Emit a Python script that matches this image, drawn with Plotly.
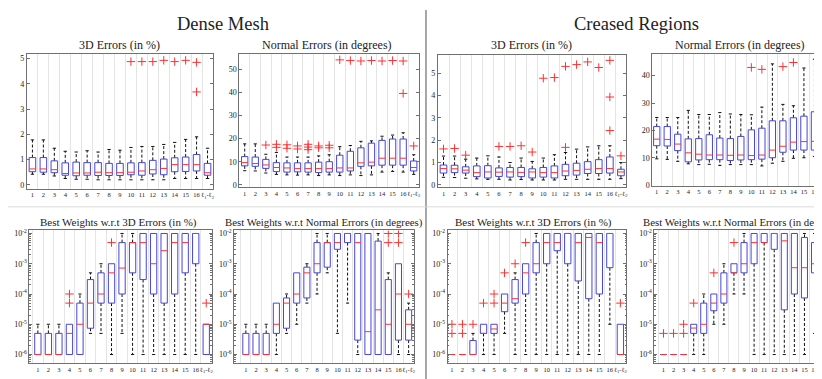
import plotly.graph_objects as go

# ---------------- categories / tick labels ----------------
cats = list(range(1, 18))
xlabels = [str(i) for i in range(1, 17)] + ["ℓ<sub>1</sub>-ℓ<sub>2</sub>"]

# ---------------- Dense Mesh : 3D Errors (in %) ----------------
d3_lw = [0.42, 0.42, 0.35, 0.25, 0.22, 0.22, 0.20, 0.20, 0.20, 0.20, 0.20, 0.20, 0.20, 0.25, 0.25, 0.25, 0.25]
d3_q1 = [0.52, 0.50, 0.48, 0.38, 0.36, 0.38, 0.37, 0.37, 0.37, 0.40, 0.38, 0.43, 0.40, 0.52, 0.53, 0.55, 0.38]
d3_med = [0.63, 0.63, 0.60, 0.45, 0.47, 0.47, 0.50, 0.48, 0.48, 0.50, 0.55, 0.60, 0.65, 0.80, 0.80, 0.80, 0.48]
d3_q3 = [1.08, 1.08, 0.95, 0.87, 0.90, 0.88, 0.88, 0.85, 0.85, 0.87, 0.88, 0.97, 1.02, 1.07, 1.10, 1.20, 0.85]
d3_uw = [1.78, 1.78, 1.45, 1.33, 1.30, 1.35, 1.30, 1.40, 1.37, 1.48, 1.52, 1.52, 1.60, 1.68, 1.80, 1.90, 1.45]
d3_out = [[], [], [], [], [], [], [], [], [], [4.88], [4.88], [4.88], [4.93], [4.88], [4.93], [4.85, 3.68], []]

# ---------------- Dense Mesh : Normal Errors (in degrees) ----------------
dn_lw = [6.1, 6.0, 5.1, 4.5, 4.3, 4.2, 4.3, 4.0, 4.3, 4.0, 4.3, 4.0, 4.3, 5.5, 5.8, 5.5, 4.5]
dn_q1 = [8.2, 8.0, 7.1, 5.7, 5.5, 5.6, 5.5, 5.3, 5.5, 5.5, 6.0, 8.0, 8.2, 8.5, 8.5, 8.5, 6.0]
dn_med = [9.6, 9.2, 8.6, 7.5, 7.3, 7.0, 7.0, 7.0, 7.0, 7.3, 7.3, 9.5, 9.8, 11.5, 11.5, 11.5, 7.5]
dn_q3 = [12.2, 12.0, 11.0, 9.6, 9.5, 9.5, 9.5, 9.8, 10.0, 12.8, 14.5, 16.0, 18.0, 19.2, 19.8, 19.8, 10.3]
dn_uw = [17.7, 17.7, 13.2, 14.0, 12.0, 12.0, 12.0, 12.5, 13.0, 16.5, 17.0, 18.8, 19.0, 21.0, 21.5, 22.5, 13.0]
dn_out = [[], [], [17.2], [17.5, 16.2], [17.3, 15.8], [16.8, 15.5], [17.5, 16.3, 15.2], [16.8, 16.0],
          [17.1, 16.0], [54.0], [53.7], [53.5], [53.7], [53.5], [53.7], [53.5, 39.5], [16.8]]

# ---------------- Creased Regions : 3D Errors (in %) ----------------
c3_lw = [0.34, 0.33, 0.30, 0.27, 0.25, 0.25, 0.22, 0.24, 0.22, 0.22, 0.22, 0.25, 0.25, 0.25, 0.25, 0.25, 0.28]
c3_q1 = [0.53, 0.55, 0.53, 0.37, 0.31, 0.38, 0.35, 0.37, 0.31, 0.35, 0.31, 0.41, 0.44, 0.51, 0.51, 0.53, 0.41]
c3_med = [0.73, 0.72, 0.66, 0.55, 0.58, 0.57, 0.58, 0.56, 0.58, 0.55, 0.55, 0.62, 0.65, 0.70, 0.73, 0.73, 0.58]
c3_q3 = [0.89, 0.88, 0.81, 0.85, 0.86, 0.76, 0.78, 0.78, 0.72, 0.78, 0.85, 0.92, 0.97, 1.04, 1.13, 1.25, 0.70]
c3_uw = [1.29, 1.29, 1.15, 1.20, 1.30, 1.25, 1.00, 1.20, 1.05, 1.20, 1.35, 1.45, 1.60, 1.70, 1.75, 1.75, 1.00]
c3_out = [[1.61], [1.63], [1.33], [], [], [1.72], [1.72], [1.75], [1.47], [4.77], [4.80], [5.30, 1.68],
          [5.38], [5.50], [5.25], [5.57, 3.93, 2.43], [1.30]]

# ---------------- Creased Regions : Normal Errors (in degrees) ----------------
cn_lw = [9.6, 9.4, 8.7, 7.8, 7.5, 7.6, 7.2, 7.5, 7.5, 7.5, 7.0, 8.0, 8.7, 9.8, 10.0, 10.5, 7.8]
cn_q1 = [14.4, 14.3, 12.6, 8.5, 9.2, 9.3, 9.3, 9.0, 9.2, 9.3, 9.5, 10.0, 12.0, 12.8, 12.8, 12.8, 9.3]
cn_med = [16.8, 16.7, 15.0, 11.8, 11.3, 11.0, 11.0, 10.9, 11.0, 10.8, 11.0, 12.8, 14.2, 15.7, 15.9, 16.0, 11.8]
cn_q3 = [21.4, 21.4, 18.6, 16.9, 17.0, 18.4, 17.2, 17.0, 17.8, 20.2, 20.8, 23.5, 23.5, 24.6, 25.2, 26.8, 17.4]
cn_uw = [24.7, 24.7, 24.7, 27.3, 25.8, 25.8, 26.5, 26.0, 25.8, 25.7, 28.5, 44.3, 29.5, 29.0, 42.8, 46.0, 24.7]
cn_out = [[], [], [], [], [], [], [], [], [], [43.0], [42.3], [], [43.3], [44.8], [], [], []]

# ---------------- Dense Mesh : Best Weights w.r.t 3D Errors ----------------
dw3_lw = [1e-6, 1e-6, 1e-6, 1e-6, 1e-6, 5e-6, 5e-6, 1e-6, 5e-6, 1e-6, 1e-6, 1e-6, 1e-6, 1e-6, 1e-6, 1e-6, 1e-6]
dw3_q1 = [1e-6, 1e-6, 1e-6, 1e-6, 1e-6, 7.4e-6, 5e-5, 5e-5, 1e-4, 5e-4, 3e-4, 1e-4, 5e-5, 1e-4, 5e-4, 1e-3, 1e-6]
dw3_med = [1e-6, 1e-6, 1e-6, 5e-6, 1e-5, 5e-5, 1e-4, 5e-4, 7.2e-4, 5e-3, 5e-3, 1e-3, 2.7e-3, 5e-3, 5e-3, 1e-2, 1e-5]
dw3_q3 = [5e-6, 5e-6, 5e-6, 1e-5, 5e-5, 3e-4, 5e-4, 1e-3, 5e-3, 5e-3, 1e-2, 1e-2, 1e-2, 1e-2, 1e-2, 1e-2, 1e-5]
dw3_uw = [1e-5, 1e-5, 1e-5, 1e-5, 1e-4, 5e-4, 1e-3, 1e-3, 1e-2, 1e-2, 1e-2, 1e-2, 1e-2, 1e-2, 1e-2, 1e-2, 1e-5]
dw3_out = [[], [], [], [1e-4, 5e-5], [], [], [], [5e-3], [], [], [], [], [], [], [], [], [5e-5]]

# ---------------- Dense Mesh : Best Weights w.r.t Normal Errors ----------------
dwn_lw = [1e-6, 1e-6, 1e-6, 1e-6, 5e-6, 1e-5, 5e-5, 1e-4, 5e-4, 5e-6, 5e-5, 1e-6, 1e-6, 1e-6, 1e-6, 1e-6, 1e-6]
dwn_q1 = [1e-6, 1e-6, 1e-6, 5e-6, 7.4e-6, 5e-5, 7.4e-5, 5e-4, 7.7e-4, 3e-3, 5e-3, 3e-6, 1e-6, 1e-6, 1e-6, 3e-6, 3e-6]
dwn_med = [1e-6, 1e-6, 1e-6, 1e-5, 5e-5, 1e-4, 5e-4, 1e-3, 5e-3, 5e-3, 1e-2, 5e-3, 5.7e-6, 3e-5, 1e-5, 1e-4, 1e-5]
dwn_q3 = [5e-6, 5e-6, 5e-6, 5e-5, 7.4e-5, 5e-4, 7.7e-4, 5e-3, 5e-3, 1e-2, 1e-2, 1e-2, 1e-2, 5.6e-3, 3e-4, 1e-3, 3e-5]
dwn_uw = [1e-5, 1e-5, 1e-5, 5e-5, 1e-4, 5e-4, 1e-3, 1e-2, 1e-2, 1e-2, 1e-2, 1e-2, 1e-2, 1e-2, 5e-4, 1e-3, 5e-5]
dwn_out = [[], [], [], [], [], [], [], [], [], [], [], [], [], [], [1e-2, 5e-3], [1e-2, 5e-3], [1e-4]]

# ---------------- Creased Regions : Best Weights w.r.t 3D Errors ----------------
cw3_lw = [1e-6, 1e-6, 1e-6, 1e-6, 1e-6, 5e-6, 1e-6, 1e-6, 1e-6, 1e-6, 1e-6, 1e-6, 1e-6, 1e-6, 1e-6, 1e-5, 1e-6]
cw3_q1 = [1e-6, 1e-6, 1e-6, 5e-6, 5e-6, 2.6e-5, 5e-5, 1e-4, 5e-4, 1e-3, 2.7e-3, 1e-3, 2.7e-4, 7e-5, 1e-4, 7.4e-4, 1e-6]
cw3_med = [1e-6, 1e-6, 1e-6, 5e-6, 7e-6, 5e-5, 7e-5, 5e-4, 1e-3, 5e-3, 5e-3, 1e-2, 5e-3, 7.4e-3, 5e-3, 1e-2, 1e-6]
cw3_q3 = [1e-6, 1e-6, 2.9e-6, 1e-5, 1e-5, 1e-4, 3e-4, 1e-3, 5e-3, 1e-2, 1e-2, 1e-2, 1e-2, 1e-2, 1e-2, 1e-2, 1e-5]
cw3_uw = [1e-6, 1e-6, 5e-6, 1e-5, 1e-5, 1e-4, 5e-4, 1e-3, 1e-2, 1e-2, 1e-2, 1e-2, 1e-2, 1e-2, 1e-2, 1e-2, 1e-5]
cw3_out = [[1e-5, 5e-6], [1e-5, 5e-6], [1e-5], [5e-5], [1e-4, 5e-5], [5e-4], [1e-3], [5e-3],
           [], [], [], [], [], [], [], [], [5e-5]]

# ---------------- Creased Regions : Best Weights w.r.t Normal Errors ----------------
cwn_lw = [1e-6, 1e-6, 1e-6, 1e-6, 1e-6, 1e-5, 1e-5, 1e-4, 1e-4, 1e-6, 1e-6, 1e-6, 1e-6, 1e-6, 1e-6, 5e-6, 1e-6]
cwn_q1 = [1e-6, 1e-6, 1e-6, 5e-6, 5e-6, 2.8e-5, 5e-5, 5e-4, 5e-4, 1e-3, 5e-3, 3e-3, 3e-5, 1e-4, 7.4e-5, 5e-4, 1e-6]
cwn_med = [1e-6, 1e-6, 1e-6, 7.5e-6, 1e-5, 5e-5, 1e-4, 5e-4, 1e-3, 5e-3, 5e-3, 1e-2, 5.7e-3, 7.4e-4, 7.4e-4, 1e-3, 5e-6]
cwn_q3 = [1e-6, 1e-6, 1e-6, 1e-5, 5e-5, 1e-4, 5e-4, 1e-3, 5e-3, 1e-2, 1e-2, 1e-2, 1e-2, 1e-2, 7.4e-3, 5e-3, 1e-5]
cwn_uw = [1e-6, 1e-6, 1e-6, 1e-5, 1e-4, 1e-4, 1e-3, 1e-3, 1e-2, 1e-2, 1e-2, 1e-2, 1e-2, 1e-2, 1e-2, 1e-2, 1e-5]
cwn_out = [[5e-6], [5e-6], [1e-5, 5e-6], [5e-5], [], [5e-4], [], [5e-3], [], [], [], [], [], [], [], [], [5e-5]]

# ---------------- titles ----------------
main_titles = ["Dense Mesh", "Creased Regions"]
sub_titles = ["3D Errors (in %)", "Normal Errors (in degrees)",
              "3D Errors (in %)", "Normal Errors (in degrees)",
              "Best Weights w.r.t 3D Errors (in %)", "Best Weights w.r.t Normal Errors (in degrees)",
              "Best Weights w.r.t 3D Errors (in %)", "Best Weights w.r.t Normal Errors (in degrees)"]

# ---------------- styling ----------------
W, H = 822, 379
BLUE = "#4646d6"
RED = "#ff3030"
FRAME = "#707070"
GRID = "#e4e4e4"
FONT = "Liberation Serif"
HW = 0.3   # half box width
CW = 0.15  # half cap width

def px_x(v):
    return v / W

def px_y(v):
    return 1 - v / H

panels = [
    dict(data=(d3_lw, d3_q1, d3_med, d3_q3, d3_uw, d3_out), xp=(19, 205.5), yp=(45, 181.5),
         xr=[0.5, 17.5], yr=[-0.15, 5.17], log=False, yt=[0, 1, 2, 3, 4, 5]),
    dict(data=(dn_lw, dn_q1, dn_med, dn_q3, dn_uw, dn_out), xp=(232, 412), yp=(45, 180),
         xr=[0.5, 17.5], yr=[-1.0, 56.4], log=False, yt=[0, 10, 20, 30, 40, 50]),
    dict(data=(c3_lw, c3_q1, c3_med, c3_q3, c3_uw, c3_out), xp=(431, 620), yp=(45.7, 180),
         xr=[0.5, 17.5], yr=[-0.1, 5.81], log=False, yt=[0, 1, 2, 3, 4, 5]),
    dict(data=(cn_lw, cn_q1, cn_med, cn_q3, cn_uw, cn_out), xp=(646, 822), yp=(45, 178.5),
         xr=[0.59, 17.29], yr=[-0.2, 47.8], log=False, yt=[0, 10, 20, 30, 40]),
    dict(data=(dw3_lw, dw3_q1, dw3_med, dw3_q3, dw3_uw, dw3_out), xp=(21.5, 204), yp=(224, 359),
         xr=[0.2, 17.5], yr=[-6.29, -1.9], log=True, yt=None),
    dict(data=(dwn_lw, dwn_q1, dwn_med, dwn_q3, dwn_uw, dwn_out), xp=(226.7, 406.7), yp=(224, 359),
         xr=[-0.15, 17.5], yr=[-6.29, -1.9], log=True, yt=None),
    dict(data=(cw3_lw, cw3_q1, cw3_med, cw3_q3, cw3_uw, cw3_out), xp=(440.7, 620), yp=(224, 359),
         xr=[0.59, 17.58], yr=[-6.29, -1.9], log=True, yt=None),
    dict(data=(cwn_lw, cwn_q1, cwn_med, cwn_q3, cwn_uw, cwn_out), xp=(648, 822), yp=(224, 359),
         xr=[0.1, 17.34], yr=[-6.29, -1.9], log=True, yt=None),
]

fig = go.Figure()
layout = {}

for k, p in enumerate(panels, start=1):
    xa = "x" if k == 1 else f"x{k}"
    ya = "y" if k == 1 else f"y{k}"
    lw, q1, med, q3, uw, out = p["data"]

    wx, wy, cx, cy = [], [], [], []
    bx, by, mx, my = [], [], [], []
    ox, oy = [], []
    for i, x in enumerate(cats):
        if uw[i] > q3[i]:
            wx += [x, x, None]; wy += [q3[i], uw[i], None]
            cx += [x - CW, x + CW, None]; cy += [uw[i], uw[i], None]
        if lw[i] < q1[i]:
            wx += [x, x, None]; wy += [q1[i], lw[i], None]
            cx += [x - CW, x + CW, None]; cy += [lw[i], lw[i], None]
        bx += [x - HW, x + HW, x + HW, x - HW, x - HW, None]
        by += [q1[i], q1[i], q3[i], q3[i], q1[i], None]
        mx += [x - HW, x + HW, None]; my += [med[i], med[i], None]
        for v in out[i]:
            ox.append(x); oy.append(v)

    common = dict(xaxis=xa, yaxis=ya, hoverinfo="skip", showlegend=False)
    fig.add_trace(go.Scatter(x=wx, y=wy, mode="lines",
                             line=dict(color="#111111", width=1, dash="3px,2px"), **common))
    fig.add_trace(go.Scatter(x=cx, y=cy, mode="lines", line=dict(color="#111111", width=1), **common))
    fig.add_trace(go.Scatter(x=bx, y=by, mode="lines", line=dict(color=BLUE, width=1), **common))
    fig.add_trace(go.Scatter(x=mx, y=my, mode="lines", line=dict(color=RED, width=1), **common))
    fig.add_trace(go.Scatter(x=ox, y=oy, mode="markers",
                             marker=dict(symbol="cross-thin", size=6, color=RED,
                                         line=dict(color=RED, width=1)), **common))

    xkey = "xaxis" if k == 1 else f"xaxis{k}"
    ykey = "yaxis" if k == 1 else f"yaxis{k}"
    layout[xkey] = dict(
        domain=[px_x(p["xp"][0]), min(1.0, px_x(p["xp"][1]))],
        anchor=ya, range=p["xr"], tickmode="array", tickvals=cats, ticktext=xlabels,
        tickangle=0, ticks="", showgrid=False, zeroline=False, showline=True, mirror=True,
        linecolor=FRAME, linewidth=1, tickfont=dict(family=FONT, size=6.5, color="#222222"),
        minor=dict(tickmode="array", tickvals=[c + 0.5 for c in range(0, 18)],
                   showgrid=True, gridcolor=GRID, gridwidth=1.2, ticks=""),
        fixedrange=True,
    )
    yd = dict(
        domain=[px_y(p["yp"][1]), px_y(p["yp"][0])], anchor=xa, range=p["yr"],
        showgrid=False, zeroline=False, showline=True, mirror="ticks",
        linecolor=FRAME, linewidth=1, ticks="inside", ticklen=3, tickcolor=FRAME,
        tickfont=dict(family=FONT, size=8, color="#222222"), fixedrange=True,
    )
    if p["log"]:
        yd.update(type="log", tickmode="array",
                  tickvals=[1e-6, 1e-5, 1e-4, 1e-3, 1e-2],
                  ticktext=["10<sup>-6</sup>", "10<sup>-5</sup>", "10<sup>-4</sup>",
                            "10<sup>-3</sup>", "10<sup>-2</sup>"],
                  minor=dict(ticks="inside", ticklen=1.5, tickcolor=FRAME, dtick="D1"))
    else:
        yd.update(tickmode="array", tickvals=p["yt"])
    layout[ykey] = yd

annotations = []
annotations.append(dict(text=main_titles[0], x=px_x(216), y=px_y(14), xref="paper", yref="paper",
                        showarrow=False, font=dict(family=FONT, size=18.5, color="#222"),
                        xanchor="center", yanchor="middle"))
annotations.append(dict(text=main_titles[1], x=px_x(630), y=px_y(14), xref="paper", yref="paper",
                        showarrow=False, font=dict(family=FONT, size=18.5, color="#222"),
                        xanchor="center", yanchor="middle"))
sub_pos = [(112, 36), (320, 36), (525, 36), (734, 36), (111, 216), (317, 216), (527, 216), (736, 216)]
sub_size = [12, 12, 12, 12, 11, 10.8, 11, 10.8]
for t, (sx, sy), fs in zip(sub_titles, sub_pos, sub_size):
    annotations.append(dict(text=t, x=px_x(sx), y=px_y(sy), xref="paper", yref="paper",
                            showarrow=False, font=dict(family=FONT, size=fs, color="#222"),
                            xanchor="center", yanchor="middle"))

shapes = [
    dict(type="line", xref="paper", yref="paper", x0=px_x(419), x1=px_x(419), y0=0, y1=1,
         line=dict(color="#8a8a8a", width=1.5)),
    dict(type="line", xref="paper", yref="paper", x0=0, x1=1, y0=px_y(200), y1=px_y(200),
         line=dict(color="#dadada", width=1)),
]

fig.update_layout(
    width=W, height=H, margin=dict(l=0, r=0, t=0, b=0),
    paper_bgcolor="white", plot_bgcolor="white",
    annotations=annotations, shapes=shapes, **layout,
)

fig.write_html("out.html")
